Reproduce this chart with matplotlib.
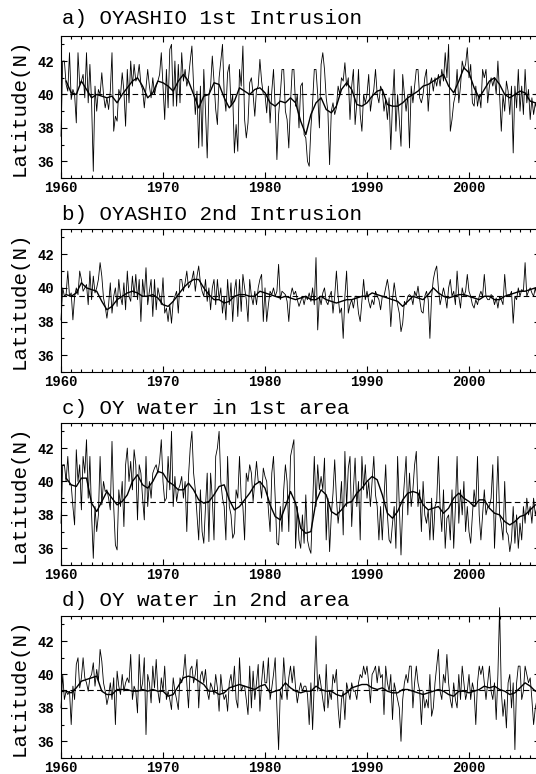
import numpy as np
import matplotlib
matplotlib.use("Agg")
import matplotlib.pyplot as plt
from matplotlib.ticker import MultipleLocator

# bimonthly positions (6 per year), 1960 - 2006
raw_a = [
    37.5, 42.0, 42.0, 40.6, 40.2, 42.5,
    39.7, 40.3, 40.0, 38.3, 42.5, 40.6,
    40.8, 41.2, 39.8, 42.5, 39.5, 41.8,
    39.5, 35.4, 40.5, 39.0, 40.3, 40.0,
    41.3, 40.0, 39.2, 39.8, 39.1, 40.2,
    42.5, 37.8, 38.7, 38.4, 40.3, 39.9,
    41.3, 40.2, 38.1, 41.5, 39.5, 42.0,
    40.5, 41.8, 40.8, 41.0, 41.8, 40.6,
    40.3, 39.2, 40.4, 41.5, 40.5, 39.8,
    41.0, 40.0, 40.5, 40.8, 41.2, 42.5,
    40.5, 38.5, 41.5, 39.2, 42.7, 43.0,
    39.3, 42.0, 39.3, 41.8, 39.5, 42.5,
    40.8, 41.5, 40.5, 41.0, 42.0, 42.9,
    40.5, 38.8, 40.2, 36.8, 40.5, 36.9,
    41.5, 39.0, 36.2, 40.0, 40.5, 42.3,
    40.8, 39.1, 38.2, 41.0, 42.0, 43.0,
    40.0, 39.0, 41.3, 41.8, 39.3, 40.0,
    36.5, 38.2, 36.6, 41.5, 40.5, 42.9,
    38.5, 37.4, 38.3, 40.7, 41.0, 40.0,
    38.7, 40.3, 40.5, 42.1, 40.8, 40.0,
    40.0, 38.9, 40.5, 38.3, 40.2, 41.5,
    39.2, 36.1, 38.8, 40.0, 41.5, 41.5,
    39.0, 38.5, 36.8, 39.5, 41.5, 41.5,
    39.3, 40.0, 38.0, 40.5, 40.7, 37.6,
    37.4, 36.0, 35.7, 38.0, 39.5, 41.5,
    41.5, 40.0, 38.0, 41.8, 42.5, 41.5,
    39.8, 39.0, 35.8, 39.0, 39.5, 38.8,
    39.2, 40.5, 40.0, 41.0, 40.8, 41.9,
    40.5, 41.0, 38.5, 40.5, 41.5, 38.2,
    39.5, 41.5, 38.8, 37.8, 40.0, 39.5,
    40.0, 41.2, 39.0, 39.8, 40.3, 41.5,
    40.0, 39.5, 40.5, 40.2, 39.0, 39.7,
    38.5, 39.8, 36.7, 39.5, 41.5, 37.8,
    40.0, 38.5, 36.9, 41.2, 40.0, 39.0,
    40.0, 36.8, 40.5, 39.5, 40.5, 41.5,
    41.5, 39.8, 39.5, 40.0, 41.0, 41.5,
    39.0, 40.6, 41.0, 40.2, 41.0, 40.5,
    41.2, 40.5, 41.5, 40.8, 42.5, 41.0,
    43.0, 37.8, 38.5, 39.5, 40.0, 41.5,
    39.5, 40.5, 42.0, 41.5, 41.8, 42.8,
    41.0, 41.8, 39.5, 39.3, 40.5, 39.3,
    40.0, 39.2, 41.5, 41.0, 41.5, 39.5,
    40.5, 41.0, 40.5, 41.0, 40.0, 42.0,
    40.0, 37.8, 40.0, 39.0, 40.8, 40.2,
    38.8, 40.5, 36.5, 40.5, 39.2, 41.5,
    39.0, 40.5, 38.8, 41.5, 39.5, 40.3,
    38.5, 39.8, 38.8, 39.5, 39.0, 39.5,
]

raw_b = [
    38.1, 40.0, 39.5, 39.6, 41.0, 39.5,
    39.7, 38.1, 39.5, 40.0, 39.6, 41.0,
    40.5, 39.8, 40.0, 40.2, 39.0, 41.0,
    39.3, 40.7, 39.7, 40.0, 40.5, 41.5,
    40.7, 39.4, 38.9, 38.2, 39.0, 40.3,
    38.5, 39.5, 40.0, 38.9, 40.5, 39.5,
    39.0, 40.3, 38.7, 41.0, 39.5, 39.2,
    40.7, 39.5, 40.8, 39.3, 40.5, 38.0,
    40.5, 39.5, 41.2, 39.0, 39.8, 40.5,
    38.3, 40.5, 38.7, 40.0, 39.5, 39.0,
    40.6, 38.5, 38.8, 38.0, 39.0, 37.9,
    39.2, 39.5, 39.8, 38.5, 40.5, 40.5,
    39.8, 40.3, 41.0, 40.0, 40.2, 40.5,
    41.0, 39.8, 40.7, 41.3, 40.3, 39.8,
    39.5, 40.5, 39.2, 40.0, 38.7, 40.0,
    40.5, 39.0, 40.5, 39.3, 40.0, 38.5,
    39.5, 38.1, 40.5, 39.0, 40.3, 38.0,
    39.8, 40.5, 38.3, 40.5, 38.6, 40.8,
    40.0, 39.3, 38.0, 40.5, 39.5, 39.0,
    39.8, 39.0, 40.0, 40.5, 40.8, 38.0,
    40.0, 38.0, 39.0, 39.8, 39.6, 40.0,
    39.5, 39.8, 41.4, 39.3, 39.8, 39.7,
    39.6, 39.2, 38.0, 39.5, 40.0, 39.6,
    39.8, 39.3, 38.9, 39.2, 39.5, 39.0,
    39.5, 39.3, 39.7, 39.2, 40.0, 39.0,
    41.8, 37.5, 39.5, 39.0, 39.7, 40.0,
    39.2, 39.0, 39.5, 39.8, 38.5, 39.5,
    41.0, 39.5, 38.5, 38.8, 37.0, 39.5,
    41.0, 38.5, 39.0, 39.3, 38.8, 39.5,
    39.5, 38.5, 38.0, 39.2, 40.5, 39.3,
    39.8, 39.2, 38.8, 39.3, 39.0, 39.8,
    39.5, 39.3, 38.7, 39.5, 39.5, 40.0,
    40.5, 39.8, 37.7, 39.3, 40.3, 39.5,
    39.0, 38.5, 37.4, 37.9, 39.2, 39.0,
    39.5, 39.6, 39.5, 39.0, 39.8, 39.5,
    40.1, 39.3, 38.6, 38.5, 39.5, 39.8,
    39.3, 37.0, 39.5, 40.5, 41.0, 41.3,
    40.0, 39.0, 39.5, 40.0, 39.5, 38.8,
    40.0, 40.5, 39.5, 39.8, 39.0, 41.0,
    39.5, 38.8, 40.0, 39.5, 39.8, 40.8,
    39.8, 39.5, 39.0, 38.8, 39.3, 39.0,
    39.5, 39.8, 39.5, 40.8, 39.5, 39.3,
    39.3, 39.6, 39.5, 39.0, 39.4, 38.8,
    39.5, 39.3, 39.0, 40.8, 39.5, 39.6,
    39.5, 39.8, 37.9, 39.5, 39.3, 40.0,
    39.5, 39.9, 39.8, 41.5, 39.5, 39.8,
    40.0, 39.7, 39.5, 40.0, 39.5, 39.8,
]

raw_c = [
    37.5, 41.0, 41.0, 40.0, 41.5, 39.8,
    39.8, 38.5, 37.4, 41.9, 40.0, 41.0,
    38.3, 41.5, 40.5, 42.5, 39.0, 41.5,
    38.0, 35.4, 38.5, 37.0, 38.0, 41.5,
    38.6, 40.0, 39.4, 39.5, 39.0, 38.3,
    42.4, 38.5, 36.2, 35.9, 39.5, 38.5,
    40.0, 37.3, 41.0, 42.0, 40.0, 41.2,
    39.5, 41.9, 41.0, 37.7, 41.0, 40.5,
    39.0, 37.7, 41.5, 38.5, 40.0, 39.0,
    40.5, 40.8, 41.0, 40.5, 41.2, 42.5,
    40.0, 38.8, 39.0, 41.5, 39.5, 43.0,
    38.5, 40.3, 38.8, 39.5, 39.8, 40.3,
    39.0, 40.0, 37.0, 40.3, 42.0, 43.0,
    40.5, 39.5, 38.0, 36.5, 39.5, 37.0,
    36.3, 38.5, 40.5, 36.4, 40.5, 39.0,
    36.5, 41.5, 42.0, 43.0, 40.0, 39.0,
    38.5, 36.5, 41.5, 38.5, 38.0, 36.6,
    36.9, 39.5, 39.0, 41.5, 39.0, 38.5,
    36.5, 40.5, 40.0, 41.0, 40.5, 38.8,
    40.0, 41.2, 40.0, 40.0, 39.0, 40.8,
    40.3, 40.0, 38.3, 37.0, 40.5, 41.5,
    39.0, 36.3, 36.2, 38.5, 37.0, 39.5,
    41.0, 40.0, 37.0, 41.5, 42.0, 42.5,
    36.0, 38.5, 36.5, 36.0, 38.0, 36.3,
    39.2, 36.5, 36.0, 35.7, 38.5, 41.5,
    38.5, 41.0, 39.5, 40.3, 39.5, 41.4,
    36.5, 39.0, 35.8, 38.0, 39.3, 41.3,
    39.0, 37.5, 38.5, 40.0, 36.8, 41.8,
    38.5, 40.8, 41.5, 37.3, 39.5, 41.4,
    38.5, 40.0, 36.5, 41.5, 39.5, 41.0,
    39.0, 40.0, 38.5, 40.0, 41.5, 39.2,
    38.5, 36.5, 38.5, 36.5, 39.0, 41.0,
    38.0, 36.5, 36.3, 37.5, 38.5, 36.0,
    41.5, 38.5, 35.6, 38.5, 40.0, 41.5,
    38.0, 40.5, 38.5, 39.5, 41.0, 41.8,
    38.5, 39.5, 37.0, 40.0, 38.0, 37.5,
    38.3, 36.5, 39.0, 36.5, 38.5, 38.8,
    41.5, 38.5, 37.0, 39.5, 36.0, 37.8,
    38.0, 36.5, 39.5, 36.0, 38.5, 41.5,
    37.5, 39.5, 38.0, 40.0, 37.0, 38.5,
    37.0, 36.3, 38.0, 39.5, 38.5, 41.5,
    38.0, 36.5, 38.0, 39.5, 38.0, 38.5,
    38.5, 39.0, 41.0, 36.0, 38.5, 41.5,
    38.0, 37.5, 36.5, 40.0, 37.0, 36.8,
    35.8, 36.5, 38.5, 36.3, 38.0, 36.0,
    37.5, 36.5, 38.5, 37.5, 39.0, 38.0,
    38.5, 37.5, 39.0, 38.0, 38.5, 38.2,
]

raw_d = [
    38.0, 40.0, 38.5, 39.0, 38.8, 39.0,
    37.0, 39.3, 38.5, 40.6, 41.0, 39.2,
    39.8, 41.0, 39.8, 39.5, 39.0, 39.8,
    40.0, 40.7, 39.3, 40.3, 39.6, 41.5,
    40.8, 39.5, 39.0, 38.2, 38.7, 39.5,
    38.5, 39.8, 37.0, 40.2, 39.3, 38.8,
    40.0, 39.0, 39.5, 39.8, 39.5, 41.2,
    38.5, 39.3, 39.0, 37.7, 41.2, 39.0,
    39.5, 41.0, 36.4, 40.0, 39.5, 38.3,
    40.5, 39.2, 40.9, 39.0, 38.3, 39.8,
    39.0, 40.5, 38.5, 39.0, 38.5, 37.9,
    39.8, 39.0, 38.5, 37.9, 39.8, 39.5,
    40.0, 41.2, 39.5, 38.0, 40.3, 40.5,
    39.5, 40.0, 40.9, 38.0, 39.9, 40.2,
    39.5, 40.3, 39.0, 38.5, 39.5, 39.2,
    38.8, 40.0, 39.2, 37.8, 40.0, 39.0,
    38.5, 38.8, 37.8, 39.5, 40.0, 39.0,
    40.5, 38.5, 38.0, 41.0, 39.0, 39.3,
    39.3, 38.5, 37.6, 40.5, 38.0, 40.2,
    38.5, 39.5, 40.6, 37.8, 39.5, 40.8,
    39.5, 39.5, 41.0, 38.5, 39.2, 40.0,
    41.0, 38.0, 35.5, 39.0, 38.5, 41.0,
    39.5, 38.5, 39.8, 40.5, 39.5, 40.5,
    39.2, 38.3, 39.0, 39.5, 39.0, 39.3,
    39.3, 38.8, 37.0, 39.5, 36.7, 39.5,
    42.3, 39.0, 40.0, 39.3, 38.5, 37.8,
    40.6, 38.0, 39.0, 38.5, 40.0, 39.5,
    40.3, 38.0, 36.8, 38.5, 39.0, 37.3,
    39.5, 39.0, 38.5, 39.5, 39.0, 39.0,
    38.5, 39.5, 40.0, 39.8, 40.5, 40.0,
    40.5, 39.5, 38.3, 40.0, 40.2, 40.5,
    39.5, 40.5, 39.8, 40.0, 37.6, 40.5,
    39.5, 39.0, 40.0, 37.3, 39.5, 39.0,
    38.5, 38.0, 36.0, 38.5, 39.5, 40.0,
    39.5, 40.5, 40.5, 38.0, 39.5, 40.5,
    39.5, 39.0, 37.0, 39.0, 38.0, 38.5,
    38.0, 40.0, 37.5, 38.0, 39.5, 40.5,
    41.5, 39.0, 38.5, 40.0, 39.5, 41.2,
    39.5, 38.5, 38.0, 39.5, 38.5, 38.0,
    40.0, 38.5, 40.5, 39.5, 38.5, 39.0,
    40.0, 38.5, 39.5, 39.0, 37.0, 39.5,
    40.5, 40.0, 40.5, 39.5, 38.5, 39.5,
    40.5, 39.0, 38.5, 39.5, 37.3, 40.0,
    44.0, 39.0, 37.5, 38.5, 36.8, 39.5,
    40.0, 38.0, 39.5, 35.5, 39.5, 40.5,
    40.5, 38.5, 39.0, 40.5, 40.0, 39.5,
    39.8, 38.5, 37.0, 38.0, 38.5, 38.5,
]

# running means, every half year from 1960.5 to 2006.5
smooth_a = [
    40.8, 40.1, 40.0, 40.8, 40.3, 39.8, 40.0, 39.9, 39.8, 39.9, 39.5,
    40.0, 40.4, 40.8, 41.0, 40.5, 39.8, 40.1, 40.8, 40.7, 40.5,
    40.2, 40.8, 41.2, 40.8, 40.0, 39.2, 39.9, 40.0, 40.7, 40.6,
    39.8, 39.2, 39.6, 40.4, 40.2, 40.0, 40.3, 40.4, 40.1, 39.5,
    39.3, 39.6, 39.5, 39.8, 39.5, 38.4, 37.6, 38.8, 39.5, 39.8,
    39.1, 38.9, 39.3, 40.3, 40.7, 40.3, 39.4, 39.3, 39.5, 39.9,
    40.2, 40.3, 39.4, 39.3, 39.3, 39.5, 39.8, 40.0, 40.2, 40.5,
    40.6, 40.8, 41.0, 41.2, 40.5, 40.1, 40.8, 41.6, 41.3, 40.4,
    39.8, 40.3, 40.8, 41.0, 40.6, 40.0, 39.8, 40.0, 40.2, 40.1,
    39.6, 39.5,
]
smooth_b = [
    39.6, 39.5, 39.7, 40.3, 40.0, 39.9, 39.8, 39.2, 38.7, 38.9, 39.3,
    39.5, 39.7, 39.8, 39.7, 39.5, 39.5, 39.6, 39.4, 39.0, 38.9,
    39.2, 39.6, 40.0, 40.3, 40.5, 40.5, 40.0, 39.6, 39.3, 39.3,
    39.1, 39.2, 39.5, 39.6, 39.6, 39.5, 39.5, 39.8, 39.7, 39.6,
    39.5, 39.4, 39.5, 39.4, 39.3, 39.4, 39.5, 39.3, 39.3, 39.5,
    39.3, 39.2, 39.1, 39.2, 39.3, 39.3, 39.4, 39.5, 39.5, 39.7,
    39.6, 39.5, 39.4, 39.3, 39.2, 38.9, 39.2, 39.5, 39.4, 39.3,
    39.6, 40.0, 39.7, 39.5, 39.4, 39.5, 39.6, 39.6, 39.5, 39.4,
    39.3, 39.5, 39.5, 39.3, 39.3, 39.5, 39.6, 39.7, 39.8, 39.8,
    39.9, 40.0,
]
smooth_c = [
    40.2, 39.8, 39.7, 40.2, 40.2, 38.7, 38.2, 38.8, 39.4, 39.0, 38.6,
    38.8, 39.2, 40.0, 40.4, 39.8, 39.6, 40.0, 40.6, 40.5, 40.0,
    39.8, 39.5, 39.5, 39.9, 39.5, 38.9, 38.7, 38.8, 39.2, 39.7,
    39.8, 38.9, 38.3, 38.5, 38.9, 39.3, 39.8, 40.0, 39.6, 38.6,
    37.9, 37.7, 38.5, 39.4, 38.7, 37.2, 36.9, 37.0, 38.8, 39.5,
    39.2, 38.2, 38.0, 38.3, 38.7, 38.8, 39.3, 39.6, 40.0, 40.3,
    40.1, 39.2, 38.1, 37.8, 38.2, 38.9, 39.3, 39.4, 39.3, 38.6,
    38.3, 38.4, 38.5, 38.1, 38.4, 39.0, 39.3, 39.0, 38.8, 38.5,
    38.9, 38.9, 38.4, 38.1, 38.0, 37.6, 37.4, 37.6, 37.9, 38.0,
    38.3, 38.6,
]
smooth_d = [
    39.0, 38.9, 39.2, 39.6, 39.7, 39.8, 39.9, 39.0, 38.8, 38.8, 39.1,
    39.1, 39.1, 39.0, 39.0, 39.1, 39.0, 39.1, 39.0, 39.0, 38.7,
    38.8, 39.3, 39.8, 39.9, 39.8, 39.6, 39.4, 39.0, 39.0, 38.8,
    38.9, 39.2, 39.3, 39.4, 39.3, 39.2, 39.1, 39.3, 39.4, 38.9,
    39.0, 39.1, 39.5, 39.2, 39.0, 38.9, 39.0, 39.0, 39.3, 39.1,
    39.0, 39.0, 38.8, 38.7, 38.9, 39.2, 39.3, 39.4, 39.4, 39.2,
    39.1, 39.2, 39.0, 38.9, 38.9, 39.1, 39.1, 39.0, 38.9, 38.8,
    38.9, 39.0, 39.1, 39.0, 38.8, 38.7, 39.0, 39.0, 38.9, 39.0,
    39.1, 39.3, 39.2, 39.3, 39.1, 39.0, 38.8, 38.9, 39.2, 39.5,
    39.3, 39.0,
]

titles = ["a) OYASHIO 1st Intrusion", "b) OYASHIO 2nd Intrusion",
          "c) OY water in 1st area", "d) OY water in 2nd area"]
means = [40.0, 39.5, 38.75, 39.1]
raws = [raw_a, raw_b, raw_c, raw_d]
smooths = [smooth_a, smooth_b, smooth_c, smooth_d]

mono = "Liberation Mono"
W, H = 536, 774
fig = plt.figure(figsize=(W / 100, H / 100), dpi=100)

# axes top / bottom in pixels
boxes = [(36, 178), (229, 372), (423, 565), (616, 758)]
title_y = [18, 214, 408, 601]

for i in range(4):
    top, bot = boxes[i]
    ax = fig.add_axes([61 / W, 1 - bot / H, (540.4 - 61) / W, (bot - top) / H])

    raw = np.array(raws[i])
    t_raw = 1960 + np.arange(len(raw)) / 6
    sm = np.array(smooths[i])
    t_sm = 1960.5 + np.arange(len(sm)) * 0.5

    ax.plot(t_raw, raw, color="black", lw=0.6, clip_on=False)
    ax.plot(t_sm, sm, color="black", lw=1.0)
    ax.axhline(means[i], color="black", lw=0.8, ls=(0, (5, 3)))

    ax.set_xlim(1960, 2007)
    ax.set_ylim(35, 43.5)
    ax.xaxis.set_major_locator(MultipleLocator(10))
    ax.xaxis.set_minor_locator(MultipleLocator(1))
    ax.yaxis.set_minor_locator(MultipleLocator(1))
    ax.set_yticks([36, 38, 40, 42])
    ax.tick_params(which="both", direction="in", top=True, right=True, width=0.8)
    ax.tick_params(which="major", length=4.5, labelsize=10)
    ax.tick_params(axis="x", which="major", pad=2.5)
    ax.tick_params(axis="y", which="major", pad=5)
    ax.tick_params(which="minor", length=2.3)
    for lab in ax.get_xticklabels() + ax.get_yticklabels():
        lab.set_fontfamily(mono)
        lab.set_fontweight("bold")
    for s in ax.spines.values():
        s.set_linewidth(0.8)

    ax.set_ylabel("Latitude(N)", fontfamily=mono, fontsize=15)
    ax.yaxis.set_label_coords(-0.068, 0.5)

    fig.text(62 / W, 1 - title_y[i] / H, titles[i], fontfamily=mono,
             fontsize=15, va="center", ha="left")

fig.savefig("out.png", dpi=100)
